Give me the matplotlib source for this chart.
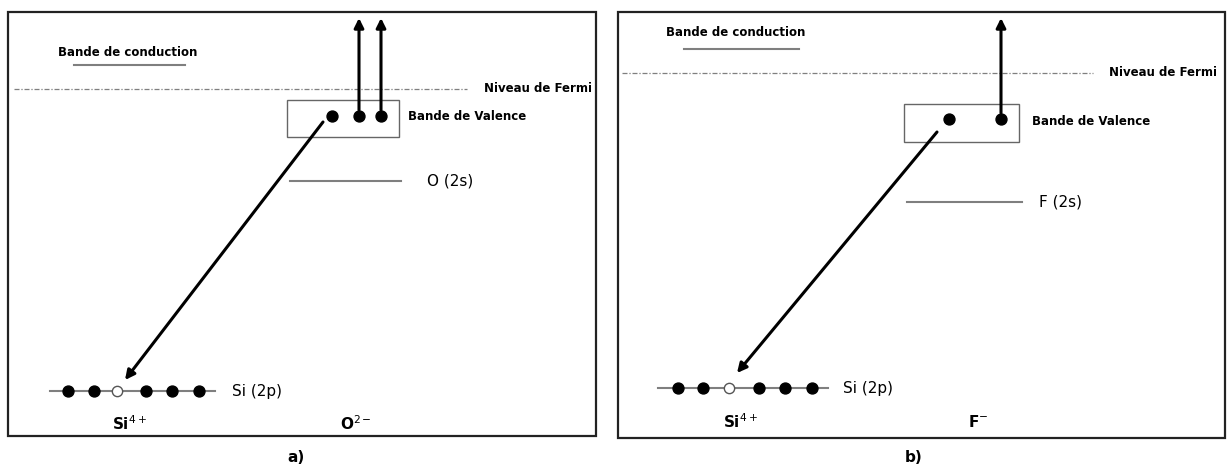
import matplotlib.pyplot as plt
from matplotlib.patches import Rectangle

# pixel-space layout of the two energy diagrams (a: SiO2, b: SiF4)
W, H = 1227, 465

panel_boxes = [(8, 12, 596, 436), (618, 12, 1225, 438)]
captions = ["a)", "b)"]
caption_x = [296, 914]

cond_label_xy = [(58, 53), (666, 33)]
cond_line = [(74, 185, 65), (684, 799, 49)]

fermi_line = [(14, 467, 89), (622, 1093, 73)]
fermi_label_x = [484, 1109]

valence_box = [(287, 100, 399, 137), (904, 104, 1019, 142)]
valence_label_x = [408, 1032]
valence_dots_x = [[332, 359, 381], [949, 1001]]
valence_dots_y = [116, 119]
up_arrows_x = [[359, 381], [1001]]
up_arrow_top = [18, 18]

s2_line = [(290, 401, 181), (907, 1022, 202)]
s2_labels = ["O (2s)", "F (2s)"]
s2_label_x = [427, 1039]

si_line = [(50, 215, 391), (658, 828, 388)]
si_dots_x = [[68, 94, 117, 146, 172, 199], [678, 703, 729, 759, 785, 812]]
si_hole = [2, 2]
si_label_x = [232, 843]

diag_from = [(323, 122), (937, 132)]
diag_to = [(125, 380), (737, 373)]

ion_labels = [("Si$^{4+}$", "O$^{2-}$"), ("Si$^{4+}$", "F$^{-}$")]
ion_x = [(112, 340), (723, 968)]
ion_y = [424, 422]

FONT = ["Liberation Sans Narrow", "DejaVu Sans"]
GREY = "#7f7f7f"

fig = plt.figure(figsize=(W / 100, H / 100), dpi=100)
ax = fig.add_axes([0, 0, 1, 1])
ax.set_xlim(0, W)
ax.set_ylim(H, 0)
ax.axis("off")

for i in range(2):
    x0, y0, x1, y1 = panel_boxes[i]
    ax.add_patch(Rectangle((x0, y0), x1 - x0, y1 - y0, fill=False,
                           ec="#222222", lw=1.6))
    ax.text(caption_x[i], 457, captions[i], ha="center", va="center",
            fontsize=11, fontweight="bold", family=FONT)

    # conduction band
    cx, cy = cond_label_xy[i]
    ax.text(cx, cy, "Bande de conduction", ha="left", va="center",
            fontsize=8.5, fontweight="bold", family=FONT)
    lx0, lx1, ly = cond_line[i]
    ax.plot([lx0, lx1], [ly, ly], color=GREY, lw=1.5)

    # Fermi level
    fx0, fx1, fy = fermi_line[i]
    ax.plot([fx0, fx1], [fy, fy], color=GREY, lw=0.9, ls=(0, (4, 1.5, 1, 1.5)))
    ax.text(fermi_label_x[i], fy, "Niveau de Fermi", ha="left", va="center",
            fontsize=8.5, fontweight="bold", family=FONT)

    # valence band
    bx0, by0, bx1, by1 = valence_box[i]
    ax.add_patch(Rectangle((bx0, by0), bx1 - bx0, by1 - by0, fill=False,
                           ec="#666666", lw=1.0))
    ax.text(valence_label_x[i], (by0 + by1) / 2 - 2, "Bande de Valence",
            ha="left", va="center", fontsize=8.5, fontweight="bold", family=FONT)
    ax.scatter(valence_dots_x[i], [valence_dots_y[i]] * len(valence_dots_x[i]),
               s=62, color="black", zorder=4)
    for ux in up_arrows_x[i]:
        ax.annotate("", xy=(ux, up_arrow_top[i]), xytext=(ux, valence_dots_y[i] - 6),
                    arrowprops=dict(arrowstyle="-|>", color="black", lw=2.2,
                                    mutation_scale=14, shrinkA=0, shrinkB=0))

    # 2s level
    sx0, sx1, sy = s2_line[i]
    ax.plot([sx0, sx1], [sy, sy], color=GREY, lw=1.5)
    ax.text(s2_label_x[i], sy, s2_labels[i], ha="left", va="center",
            fontsize=11, family=FONT)

    # Si 2p core level
    ix0, ix1, iy = si_line[i]
    ax.plot([ix0, ix1], [iy, iy], color=GREY, lw=1.5, zorder=2)
    for k, dx in enumerate(si_dots_x[i]):
        if k == si_hole[i]:
            ax.scatter([dx], [iy], s=55, facecolor="white", edgecolor="#555555",
                       lw=1.0, zorder=4)
        else:
            ax.scatter([dx], [iy], s=62, color="black", zorder=4)
    ax.text(si_label_x[i], iy, "Si (2p)", ha="left", va="center",
            fontsize=11, family=FONT)

    # Auger-like transition
    ax.annotate("", xy=diag_to[i], xytext=diag_from[i],
                arrowprops=dict(arrowstyle="-|>", color="black", lw=2.2,
                                mutation_scale=14, shrinkA=0, shrinkB=0))

    for lab, tx in zip(ion_labels[i], ion_x[i]):
        ax.text(tx, ion_y[i], lab, ha="left", va="center", fontsize=11,
                fontweight="bold", family=FONT)

fig.savefig("out.png", dpi=100)
